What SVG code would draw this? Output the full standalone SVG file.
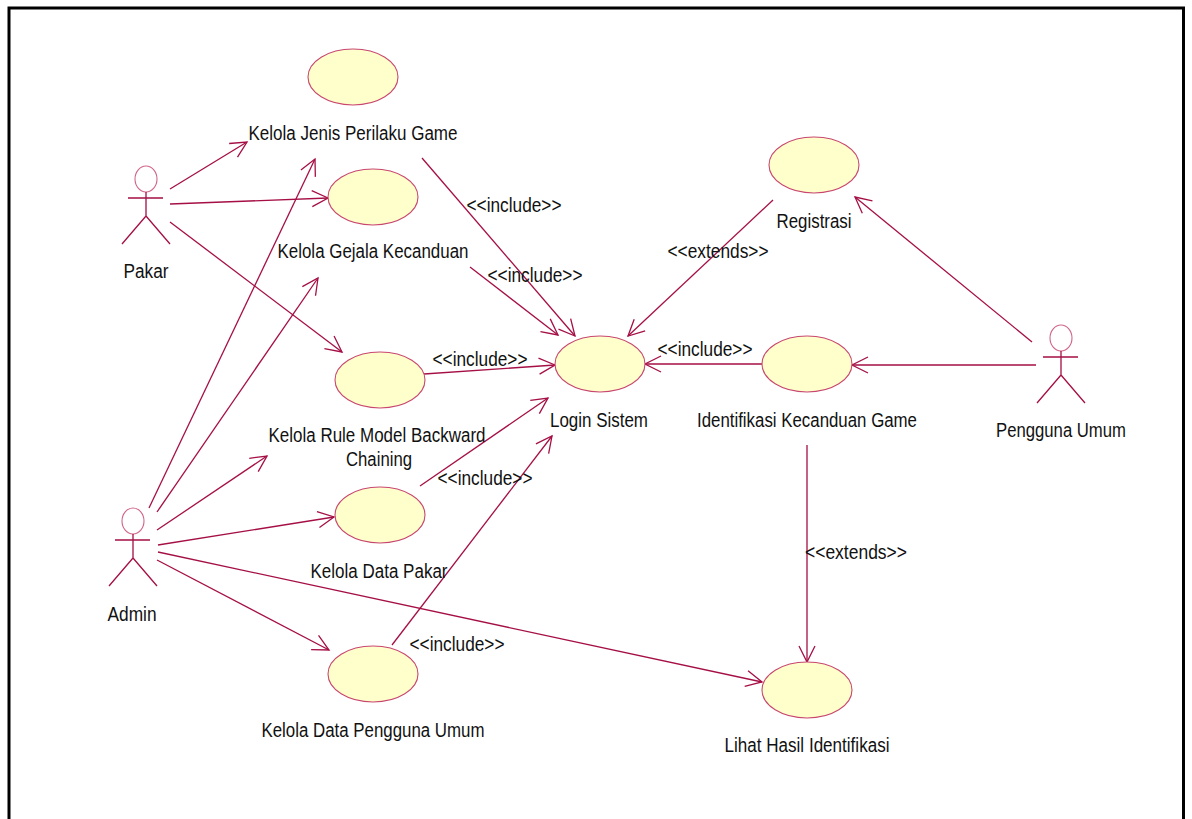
<svg xmlns="http://www.w3.org/2000/svg" width="1192" height="819" viewBox="0 0 1192 819">
<style>
.c{fill:none;stroke:#a50f45;stroke-width:1.3;marker-end:url(#a)}
.u{fill:#ffffcb;stroke:#c8476f;stroke-width:1.1}
.h{fill:none;stroke:#d0658a;stroke-width:1.1}
.b{fill:none;stroke:#a50f45;stroke-width:1.3}
text{font-family:"Liberation Sans",Arial,sans-serif;font-size:20px;fill:#111;text-anchor:middle}
</style>
<defs>
<marker id="a" markerUnits="userSpaceOnUse" markerWidth="22" markerHeight="24" refX="17" refY="12" orient="auto" overflow="visible"><path d="M1 4L17 12L1 20" fill="none" stroke="#a50f45" stroke-width="1.3"/></marker>
<g id="actor"><ellipse class="h" cx="0" cy="0" rx="11" ry="13"/><path class="b" d="M0 13V37M-18 19H17M0 37L-24 65M0 37L24 65"/></g>
</defs>
<rect width="1192" height="819" fill="#fff"/>
<path d="M9 825V8H1183.5V825" fill="none" stroke="#000" stroke-width="3"/>
<g id="connectors">
<path class="c" d="M170 189L247 142"/>
<path class="c" d="M170 204L328 198"/>
<path class="c" d="M170 222L342 352"/>
<path class="c" d="M149 508L315 159"/>
<path class="c" d="M157 512L318 278"/>
<path class="c" d="M157 530L267 456"/>
<path class="c" d="M158 545L334 517"/>
<path class="c" d="M157 560L329 650"/>
<path class="c" d="M158 552L762 682"/>
<path class="c" d="M422 158L575 336"/>
<path class="c" d="M470 267L558 335"/>
<path class="c" d="M424 374L555 365"/>
<path class="c" d="M420 486L548 398"/>
<path class="c" d="M392 645L552 436"/>
<path class="c" d="M773 200L628 336"/>
<path class="c" d="M762 364L645 364"/>
<path class="c" d="M1032 342L855 197"/>
<path class="c" d="M1036 365L852 365"/>
<path class="c" d="M807 445L807 662"/>
<text x="514" y="212" textLength="95" lengthAdjust="spacingAndGlyphs">&lt;&lt;include&gt;&gt;</text>
<text x="535" y="282" textLength="95" lengthAdjust="spacingAndGlyphs">&lt;&lt;include&gt;&gt;</text>
<text x="480" y="366" textLength="95" lengthAdjust="spacingAndGlyphs">&lt;&lt;include&gt;&gt;</text>
<text x="485" y="485" textLength="95" lengthAdjust="spacingAndGlyphs">&lt;&lt;include&gt;&gt;</text>
<text x="457" y="651" textLength="95" lengthAdjust="spacingAndGlyphs">&lt;&lt;include&gt;&gt;</text>
<text x="705" y="356" textLength="95" lengthAdjust="spacingAndGlyphs">&lt;&lt;include&gt;&gt;</text>
<text x="718" y="258" textLength="101" lengthAdjust="spacingAndGlyphs">&lt;&lt;extends&gt;&gt;</text>
<text x="856" y="559" textLength="102" lengthAdjust="spacingAndGlyphs">&lt;&lt;extends&gt;&gt;</text>
</g>
<g id="pakar"><use href="#actor" x="146" y="179"/><text x="146" y="278" textLength="45" lengthAdjust="spacingAndGlyphs">Pakar</text></g>
<g id="admin"><use href="#actor" x="133" y="521"/><text x="132" y="621" textLength="49" lengthAdjust="spacingAndGlyphs">Admin</text></g>
<g id="pengguna-umum"><use href="#actor" x="1061" y="338"/><text x="1061" y="437" textLength="130" lengthAdjust="spacingAndGlyphs">Pengguna Umum</text></g>
<g id="kelola-jenis"><ellipse class="u" cx="353" cy="77" rx="45" ry="28"/><text x="353" y="140" textLength="209" lengthAdjust="spacingAndGlyphs">Kelola Jenis Perilaku Game</text></g>
<g id="kelola-gejala"><ellipse class="u" cx="373" cy="197" rx="45" ry="28"/><text x="373" y="258" textLength="191" lengthAdjust="spacingAndGlyphs">Kelola Gejala Kecanduan</text></g>
<g id="kelola-rule"><ellipse class="u" cx="380" cy="380" rx="45" ry="28"/><text x="377" y="442" textLength="217" lengthAdjust="spacingAndGlyphs">Kelola Rule Model Backward</text><text x="379" y="466" textLength="66" lengthAdjust="spacingAndGlyphs">Chaining</text></g>
<g id="kelola-pakar"><ellipse class="u" cx="380" cy="515" rx="45" ry="28"/><text x="379" y="578" textLength="137" lengthAdjust="spacingAndGlyphs">Kelola Data Pakar</text></g>
<g id="kelola-pengguna"><ellipse class="u" cx="373" cy="674" rx="45" ry="28"/><text x="373" y="737" textLength="223" lengthAdjust="spacingAndGlyphs">Kelola Data Pengguna Umum</text></g>
<g id="login"><ellipse class="u" cx="600" cy="364" rx="45" ry="28"/><text x="599" y="427" textLength="98" lengthAdjust="spacingAndGlyphs">Login Sistem</text></g>
<g id="registrasi"><ellipse class="u" cx="814" cy="165" rx="45" ry="28"/><text x="814" y="228" textLength="75" lengthAdjust="spacingAndGlyphs">Registrasi</text></g>
<g id="identifikasi"><ellipse class="u" cx="807" cy="364" rx="45" ry="28"/><text x="807" y="427" textLength="220" lengthAdjust="spacingAndGlyphs">Identifikasi Kecanduan Game</text></g>
<g id="lihat"><ellipse class="u" cx="807" cy="690" rx="45" ry="28"/><text x="807" y="752" textLength="165" lengthAdjust="spacingAndGlyphs">Lihat Hasil Identifikasi</text></g>
</svg>
